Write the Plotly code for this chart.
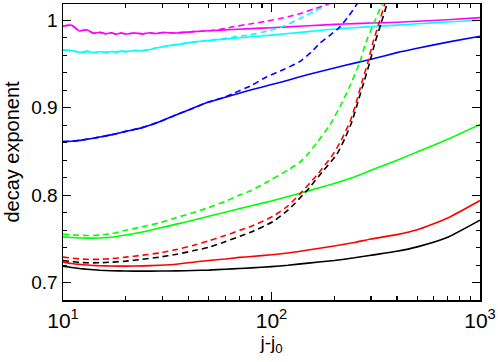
import plotly.graph_objects as go

# ---------------- data ----------------
X_GRID = [10, 11, 12, 13, 14, 15, 17, 20, 24, 29, 35, 42, 50, 60, 70, 80, 100, 120,
          150, 200, 250, 300, 400, 500, 700, 1000]

X_WIG = [10, 11, 12, 13, 14, 15, 16, 17, 18, 19, 20, 22, 24, 26, 28, 30, 35, 42, 50,
         60, 70, 80, 100, 120, 150, 200, 250, 300, 400, 500, 700, 1000]

magenta_solid = [0.9935, 0.9943, 0.9878, 0.9892, 0.9852, 0.9862, 0.9845, 0.9858, 0.9842,
                 0.9855, 0.9843, 0.9855, 0.9845, 0.9857, 0.9848, 0.9860, 0.9855, 0.9870,
                 0.9880, 0.9890, 0.9898, 0.9905, 0.9915, 0.9925, 0.9937, 0.9953, 0.9962,
                 0.9968, 0.9977, 0.9988, 1.0006, 1.0030]

x_magenta_dash = [10, 11, 12, 13, 14, 15, 16, 17, 18, 19, 20, 22, 24, 26, 28, 30, 35, 42,
                  50, 60, 65, 80, 95, 115, 137, 160, 187, 210]
magenta_dash = [0.9935, 0.9943, 0.9878, 0.9892, 0.9852, 0.9862, 0.9845, 0.9858, 0.9842,
                0.9855, 0.9843, 0.9855, 0.9845, 0.9857, 0.9848, 0.9860, 0.9855, 0.9870,
                0.9880, 0.9905, 0.9925, 0.9960, 0.9990, 1.0030, 1.0075, 1.0130, 1.0186,
                1.0250]

cyan_solid = [0.9660, 0.9655, 0.9632, 0.9645, 0.9630, 0.9640, 0.9633, 0.9643, 0.9637,
              0.9647, 0.9642, 0.9655, 0.9652, 0.9665, 0.9685, 0.9698, 0.9722, 0.9750,
              0.9768, 0.9785, 0.9800, 0.9812, 0.9830, 0.9848, 0.9870, 0.9900, 0.9915,
              0.9928, 0.9945, 0.9960, 0.9980, 1.0000]

x_cyan_dash = [10, 11, 12, 13, 14, 15, 16, 17, 18, 19, 20, 22, 24, 26, 28, 30, 35, 42,
               50, 60, 79, 95, 115, 137, 160, 190, 210]
cyan_dash = [0.9660, 0.9655, 0.9632, 0.9645, 0.9630, 0.9640, 0.9633, 0.9643, 0.9637,
             0.9647, 0.9642, 0.9655, 0.9652, 0.9665, 0.9685, 0.9698, 0.9722, 0.9750,
             0.9770, 0.9795, 0.9835, 0.9875, 0.9935, 1.0020, 1.0100, 1.0200, 1.0270]

blue_solid = [0.8614, 0.8618, 0.8627, 0.8640, 0.8652, 0.8665, 0.8690, 0.8730, 0.8773,
              0.8840, 0.8920, 0.8995, 0.9065, 0.9120, 0.9165, 0.9205, 0.9265, 0.9315,
              0.9380, 0.9455, 0.9510, 0.9555, 0.9630, 0.9680, 0.9750, 0.9818]

x_blue_dash = [10, 11, 12, 13, 14, 15, 17, 20, 24, 29, 35, 42, 50, 60, 65, 80, 95, 115,
               137, 155, 171, 190, 213, 235, 257, 280]
blue_dash = [0.8614, 0.8618, 0.8627, 0.8640, 0.8652, 0.8665, 0.8690, 0.8730, 0.8773,
             0.8840, 0.8920, 0.8995, 0.9065, 0.9122, 0.9160, 0.9255, 0.9355, 0.9440,
             0.9530, 0.9635, 0.9740, 0.9825, 0.9924, 1.0050, 1.0186, 1.0320]

green_solid = [0.7524, 0.7517, 0.7512, 0.7510, 0.7510, 0.7512, 0.7520, 0.7545, 0.7580,
               0.7625, 0.7670, 0.7715, 0.7760, 0.7805, 0.7846, 0.7880, 0.7935, 0.7985,
               0.8050, 0.8135, 0.8210, 0.8285, 0.8400, 0.8495, 0.8640, 0.8810]

x_green_dash = [10, 11, 12, 13, 14, 15, 17, 20, 24, 29, 35, 42, 50, 60, 70, 80, 100, 120,
                137, 148, 165, 190, 215, 243, 265, 284, 310, 339, 360]
green_dash = [0.7555, 0.7548, 0.7543, 0.7540, 0.7540, 0.7545, 0.7560, 0.7600, 0.7640,
              0.7685, 0.7745, 0.7800, 0.7860, 0.7930, 0.8000, 0.8055, 0.8180, 0.8290,
              0.8380, 0.8460, 0.8600, 0.8800, 0.9030, 0.9300, 0.9520, 0.9750, 0.9970,
              1.0186, 1.0330]

red_solid = [0.7236, 0.7220, 0.7210, 0.7203, 0.7198, 0.7195, 0.7191, 0.7190, 0.7193,
             0.7200, 0.7212, 0.7235, 0.7255, 0.7272, 0.7290, 0.7300, 0.7320, 0.7340,
             0.7375, 0.7420, 0.7460, 0.7500, 0.7550, 0.7605, 0.7740, 0.7940]

x_red_dash = [10, 11, 12, 13, 14, 15, 17, 20, 24, 29, 35, 42, 50, 60, 70.6, 80, 101.7,
              120, 137, 165, 195, 215, 238, 255, 272, 290, 307, 328, 349, 370]
red_dash = [0.7293, 0.7282, 0.7273, 0.7268, 0.7267, 0.7268, 0.7275, 0.7293, 0.7315,
            0.7340, 0.7380, 0.7425, 0.7480, 0.7540, 0.7600, 0.7645, 0.7760, 0.7880,
            0.8015, 0.8230, 0.8450, 0.8620, 0.8840, 0.9060, 0.9300, 0.9520, 0.9750,
            0.9970, 1.0186, 1.0400]

black_solid = [0.7190, 0.7175, 0.7163, 0.7155, 0.7148, 0.7143, 0.7138, 0.7134, 0.7133,
               0.7134, 0.7136, 0.7140, 0.7145, 0.7155, 0.7163, 0.7170, 0.7185, 0.7200,
               0.7225, 0.7255, 0.7285, 0.7315, 0.7360, 0.7410, 0.7520, 0.7715]

x_black_dash = [10, 11, 12, 13, 14, 15, 17, 20, 24, 29, 35, 42, 50, 60, 70.6, 80, 101.7,
                120, 148, 176.6, 206, 225, 243, 260, 278, 296, 314, 336, 358, 380]
black_dash = [0.7255, 0.7243, 0.7233, 0.7228, 0.7227, 0.7229, 0.7235, 0.7247, 0.7268,
              0.7293, 0.7325, 0.7365, 0.7405, 0.7470, 0.7532, 0.7580, 0.7700, 0.7830,
              0.8055, 0.8277, 0.8470, 0.8650, 0.8840, 0.9070, 0.9300, 0.9520, 0.9750,
              0.9970, 1.0186, 1.0400]

X_TICKS = [10, 100, 1000]
X_TICK_TEXT = ["10<sup>1</sup>", "10<sup>2</sup>", "10<sup>3</sup>"]
X_MINOR = [20, 30, 40, 50, 60, 70, 80, 90, 200, 300, 400, 500, 600, 700, 800, 900]
Y_TICKS = [0.7, 0.8, 0.9, 1.0]
Y_TICK_TEXT = ["0.7", "0.8", "0.9", "1"]

# ---------------- figure ----------------
DASH = "6px,4px"
series = [
    (X_GRID, black_solid, "#000000", "solid"),
    (X_GRID, red_solid, "#ff0000", "solid"),
    (X_GRID, green_solid, "#00ff00", "solid"),
    (X_GRID, blue_solid, "#0000ff", "solid"),
    (X_WIG, cyan_solid, "#00ffff", "solid"),
    (X_WIG, magenta_solid, "#ff00ff", "solid"),
    (x_black_dash, black_dash, "#000000", DASH),
    (x_red_dash, red_dash, "#ff0000", DASH),
    (x_green_dash, green_dash, "#00ff00", DASH),
    (x_blue_dash, blue_dash, "#0000ff", DASH),
    (x_cyan_dash, cyan_dash, "#00ffff", DASH),
    (x_magenta_dash, magenta_dash, "#ff00ff", DASH),
]

fig = go.Figure()
for xs, ys, col, dash in series:
    fig.add_trace(go.Scatter(x=xs, y=ys, mode="lines",
                             line=dict(color=col, width=1.6, dash=dash, shape="spline",
                                       smoothing=0.5),
                             showlegend=False, hoverinfo="skip"))

FONT = "Liberation Sans, Arial, Helvetica, sans-serif"
fig.update_layout(
    width=498, height=362,
    margin=dict(l=63, r=18, t=2, b=62),
    plot_bgcolor="white", paper_bgcolor="white",
    font=dict(family=FONT, size=18, color="black"),
    showlegend=False,
)
fig.update_xaxes(
    type="log", range=[1, 3],
    tickmode="array", tickvals=X_TICKS, ticktext=X_TICK_TEXT,
    tickfont=dict(size=21), ticklabelstandoff=1,
    ticks="inside", ticklen=8, tickwidth=1.2, tickcolor="black",
    minor=dict(tickmode="array", tickvals=X_MINOR, ticks="inside", ticklen=4,
               tickwidth=1.2, tickcolor="black"),
    showline=True, linecolor="black", linewidth=1.5, mirror="allticks",
    showgrid=False, zeroline=False,
    title=dict(text="j-j<sub>0</sub>", font=dict(size=19), standoff=3),
)
fig.update_yaxes(
    range=[0.6803, 1.0186],
    tickmode="array", tickvals=Y_TICKS, ticktext=Y_TICK_TEXT,
    tickfont=dict(size=19),
    ticks="inside", ticklen=8, tickwidth=1.2, tickcolor="black",
    minor=dict(dtick=0.02, tick0=0.7, ticks="inside", ticklen=4, tickwidth=1.2,
               tickcolor="black"),
    showline=True, linecolor="black", linewidth=1.5, mirror="allticks",
    showgrid=False, zeroline=False,
    title=dict(text="decay exponent", font=dict(size=20), standoff=6),
)

fig.write_html("out.html",
               config={"displayModeBar": False, "staticPlot": True},
               post_script="document.body.style.margin='0';"
                           "document.body.style.overflow='hidden';")
